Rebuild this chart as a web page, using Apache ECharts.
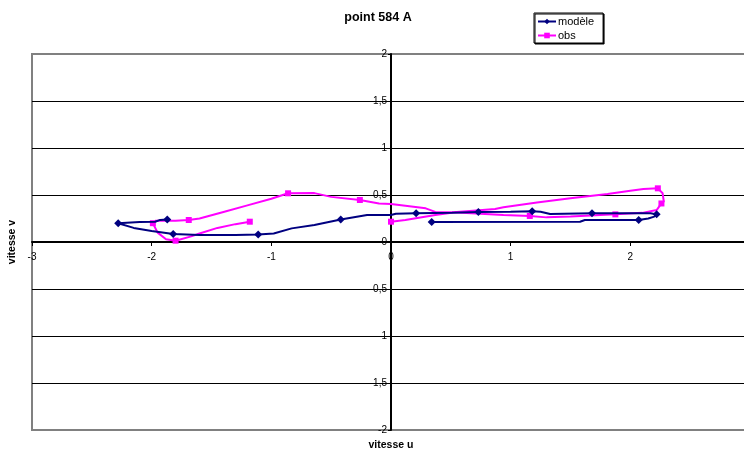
<!DOCTYPE html>
<html>
<head>
<meta charset="utf-8">
<script src="https://cdn.jsdelivr.net/npm/echarts@6/dist/echarts.min.js"></script>
<style>html,body{margin:0;padding:0;background:#fff}#c{width:744px;height:455px}</style>
</head>
<body>
<div id="c"></div>
<script>
const titleText = 'point 584 A';
const seriesNames = ['modèle', 'obs'];
const xTitle = 'vitesse u';
const yTitle = 'vitesse v';

// modèle
const modeleU = [-1.87,-1.93,-1.97,-2.10,-2.28,-2.15,-2.00,-1.82,-1.60,-1.30,-1.11,-0.98,-0.83,-0.64,-0.42,-0.20,0.00,0.04,0.21,0.51,0.73,1.00,1.18,1.25,1.33,1.68,2.17,2.22,2.20,2.15,2.07,1.62,1.58,0.34];
const modeleV = [0.240,0.235,0.216,0.212,0.200,0.150,0.117,0.085,0.074,0.074,0.080,0.090,0.145,0.180,0.240,0.287,0.287,0.300,0.305,0.310,0.320,0.322,0.326,0.322,0.298,0.305,0.305,0.294,0.270,0.250,0.234,0.234,0.216,0.213];
const modeleMarkers = [0,4,7,10,14,18,20,22,25,27,30,33];

// obs
const obsU = [-1.18,-1.30,-1.45,-1.60,-1.67,-1.80,-1.88,-1.95,-1.99,-1.97,-1.80,-1.69,-1.60,-1.40,-1.20,-1.00,-0.86,-0.64,-0.50,-0.26,-0.10,0.00,0.12,0.29,0.37,0.52,0.67,0.94,1.16,1.30,1.50,1.875,2.10,2.22,2.26,2.28,2.27,2.23,2.11,2.00,1.81,1.50,1.22,0.94,0.87,0.55,0.37,0.12,0.00];
const obsV = [0.216,0.190,0.150,0.090,0.060,0.014,0.030,0.100,0.200,0.225,0.225,0.234,0.250,0.320,0.390,0.460,0.518,0.520,0.480,0.447,0.410,0.404,0.386,0.358,0.320,0.316,0.305,0.287,0.277,0.262,0.270,0.294,0.310,0.340,0.410,0.430,0.518,0.571,0.564,0.546,0.510,0.465,0.420,0.370,0.350,0.320,0.287,0.234,0.216];
const obsMarkers = [0,5,8,11,16,19,28,31,34,37,48];

const xMin = -3, xMax = 2.95, xStep = 1;
const yMin = -2, yMax = 2, yStep = 0.5;

function build(us, vs, marks) {
  return us.map((u, i) => marks.includes(i) ? { value: [u, vs[i]] } : { value: [u, vs[i]], symbol: 'none' });
}

const W = 744, H = 455;
const G = { left: 32, top: 54, right: 0, bottom: 25 };
const gw = W - G.left - G.right, gh = H - G.top - G.bottom;
const xZeroPx = G.left + (0 - xMin) / (xMax - xMin) * gw;
const yZeroPx = G.top + (yMax - 0) / (yMax - yMin) * gh;

const chart = echarts.init(document.getElementById('c'), null, { renderer: 'canvas' });
const fmt = v => String(v).replace('.', ',');
const nLines = Math.round((yMax - yMin) / yStep) + 1;
const gridColors = Array.from({ length: nLines }, (_, i) => (i === 0 || i === nLines - 1) ? '#808080' : '#000000');
const FF = 'Liberation Sans, Arial, sans-serif';

chart.setOption({
  animation: false,
  backgroundColor: '#ffffff',
  textStyle: { fontFamily: FF },
  title: {
    text: titleText, left: 378, top: 11, textAlign: 'center', padding: 0,
    textStyle: { fontSize: 12.5, fontWeight: 'bold', color: '#000', fontFamily: FF }
  },
  legend: {
    left: 534, top: 13, orient: 'vertical', itemGap: 3, itemWidth: 18, itemHeight: 7,
    padding: [3, 9, 2, 3],
    borderColor: '#000', borderWidth: 1, backgroundColor: '#fff',
    shadowColor: '#000', shadowOffsetX: 1, shadowOffsetY: 1, shadowBlur: 0,
    textStyle: { fontSize: 11, color: '#000', padding: [0, 0, 0, -3], fontFamily: FF },
    data: seriesNames
  },
  grid: { left: G.left, top: G.top, right: G.right, bottom: G.bottom, show: false },
  xAxis: {
    type: 'value', min: xMin, max: xMax, interval: xStep,
    offset: -(G.top + gh - yZeroPx),
    axisLine: { onZero: false, lineStyle: { color: '#000', width: 2 } },
    axisTick: { show: true, length: 4, lineStyle: { color: '#000', width: 1 } },
    axisLabel: { fontSize: 10, color: '#000', margin: 10, formatter: fmt, showMaxLabel: false },
    splitLine: { show: false }
  },
  yAxis: {
    type: 'value', min: yMin, max: yMax, interval: yStep,
    offset: -(xZeroPx - G.left),
    axisLine: { onZero: false, lineStyle: { color: '#000', width: 2 } },
    axisTick: { show: true, length: 3, lineStyle: { color: '#000', width: 1 } },
    axisLabel: { fontSize: 10, color: '#000', margin: 4, formatter: fmt },
    splitLine: { show: true, lineStyle: { color: gridColors, width: 1 } }
  },
  graphic: [
    { type: 'polyline', z: 0, shape: { points: [[W + 5, G.top], [G.left, G.top], [G.left, H - G.bottom], [W + 5, H - G.bottom]] }, style: { stroke: '#808080', lineWidth: 2, fill: null } },
    { type: 'text', x: 391, y: 445, style: { text: xTitle, font: 'bold 10.5px ' + FF, fill: '#000', align: 'center', verticalAlign: 'middle' } },
    { type: 'text', x: 12, y: 242, rotation: Math.PI / 2, style: { text: yTitle, font: 'bold 10.5px ' + FF, fill: '#000', align: 'center', verticalAlign: 'middle' } }
  ],
  series: [
    {
      name: seriesNames[0], type: 'line', data: build(modeleU, modeleV, modeleMarkers),
      symbol: 'diamond', symbolSize: 8, showSymbol: true,
      lineStyle: { color: '#000080', width: 2 }, itemStyle: { color: '#000080' }, z: 3
    },
    {
      name: seriesNames[1], type: 'line', data: build(obsU, obsV, obsMarkers),
      symbol: 'rect', symbolSize: 6, showSymbol: true,
      lineStyle: { color: '#FF00FF', width: 2 }, itemStyle: { color: '#FF00FF' }, z: 2
    }
  ]
});
</script>
</body>
</html>
